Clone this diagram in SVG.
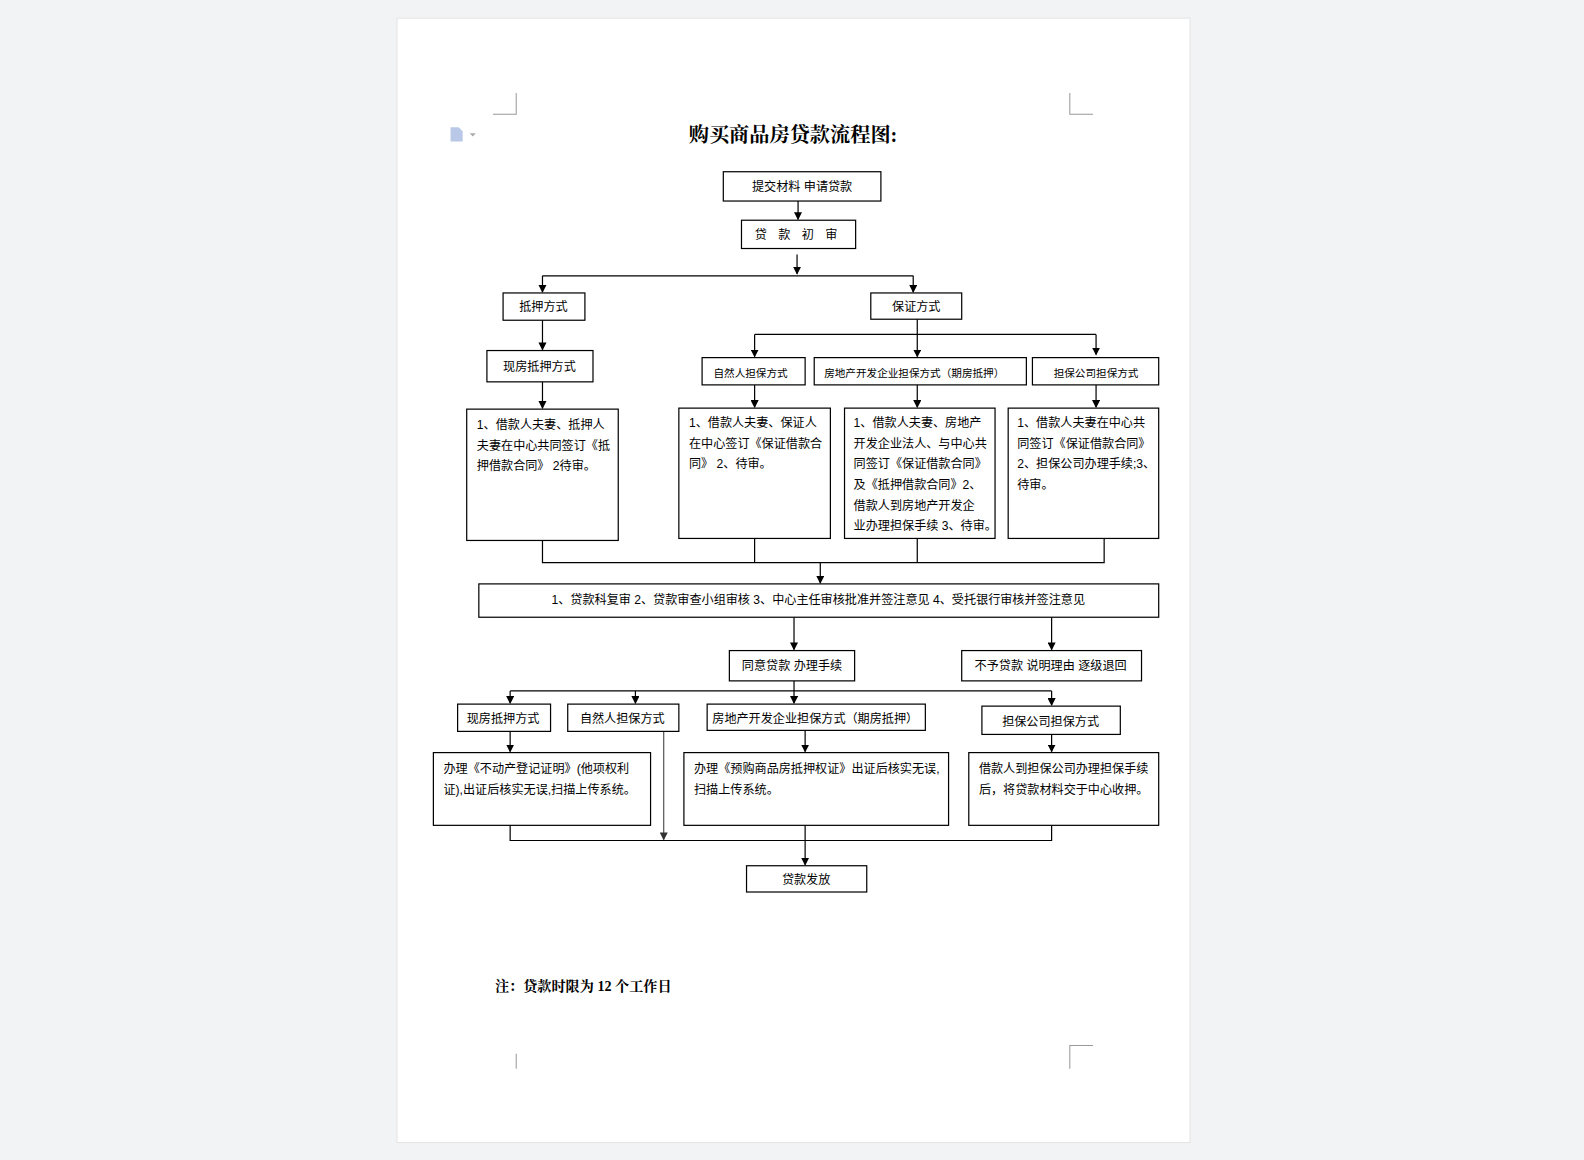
<svg xmlns="http://www.w3.org/2000/svg" width="1584" height="1160" viewBox="0 0 1584 1160">
<defs>
<marker id="ar" markerWidth="8" markerHeight="8" refX="7" refY="4" orient="auto" markerUnits="userSpaceOnUse"><path d="M0,0 L8,4 L0,8 z" fill="#000"/></marker>
<marker id="arg" markerWidth="8" markerHeight="8" refX="7" refY="4" orient="auto" markerUnits="userSpaceOnUse"><path d="M0,0 L8,4 L0,8 z" fill="#333"/></marker>
<style>
.b{fill:#fff;stroke:#000;stroke-width:1.2}
.t{font-family:"Liberation Sans","Noto Sans CJK SC",sans-serif;font-size:12px;fill:#000}
.s{font-size:10.5px}
.c{stroke:#000;stroke-width:1.2;fill:none}
.g{stroke:#555;stroke-width:1.2;fill:none}
.m{stroke:#999;stroke-width:1;fill:none}
</style>
</defs>
<rect width="1584" height="1160" fill="#f2f3f5"/>
<g transform="scale(1.0102)">
<rect x="393" y="18" width="785" height="1113" fill="#fff" stroke="#e4e4e4"/>
<g id="marks">
<path class="m" d="M488,113 H511 V92 M1082,113 H1059 V92 M511,1043 V1058 M1082,1035 H1059 V1058"/>
<path d="M446,126 h8 l4,4 v10 h-12 z" fill="#b8c8e6"/><path d="M465,132 l3,3 l3,-3z" fill="#aaa"/>
</g>
<text x="785" y="141" text-anchor="middle" style="font-family:'Liberation Serif','Noto Serif CJK SC','Noto Sans CJK SC',serif;font-size:20px;font-weight:bold">购买商品房贷款流程图:</text>
<g id="connectors">
<path class="c" marker-end="url(#ar)" d="M790,199 V217"/>
<path class="c" marker-end="url(#ar)" d="M789,252 V271"/>
<path class="c" d="M537,273 H904"/>
<path class="c" marker-end="url(#ar)" d="M537,273 V289"/>
<path class="c" marker-end="url(#ar)" d="M904,273 V289"/>
<path class="c" marker-end="url(#ar)" d="M537,317 V346"/>
<path class="c" marker-end="url(#ar)" d="M908,316 V353"/>
<path class="c" d="M747,331 H1085"/>
<path class="c" marker-end="url(#ar)" d="M747,331 V353"/>
<path class="c" marker-end="url(#ar)" d="M1085,331 V351"/>
<path class="c" marker-end="url(#ar)" d="M537,378 V404"/>
<path class="c" marker-end="url(#ar)" d="M747,381 V403"/>
<path class="c" marker-end="url(#ar)" d="M908,381 V403"/>
<path class="c" marker-end="url(#ar)" d="M1085,381 V403"/>
<path class="c" d="M537,535 V557 H1093 V533 M747,533 V557 M908,533 V557"/>
<path class="c" marker-end="url(#ar)" d="M812,557 V577"/>
<path class="c" marker-end="url(#ar)" d="M786,611 V643"/>
<path class="c" marker-end="url(#ar)" d="M1041,611 V643"/>
<path class="c" marker-end="url(#ar)" d="M786,674 V696"/>
<path class="c" d="M505,684 H1041"/>
<path class="c" marker-end="url(#ar)" d="M505,684 V696"/>
<path class="c" marker-end="url(#ar)" d="M629,684 V696"/>
<path class="c" marker-end="url(#ar)" d="M1041,684 V698"/>
<path class="c" marker-end="url(#ar)" d="M505,724 V744"/>
<path class="c" marker-end="url(#ar)" d="M797,723 V744"/>
<path class="c" marker-end="url(#ar)" d="M1041,727 V744"/>
<path class="g" marker-end="url(#arg)" d="M657,724 V831"/>
<path class="c" d="M505,817 V832 H1041 V817"/>
<path class="c" marker-end="url(#ar)" d="M797,817 V856"/>
</g>
<g id="n1"><rect class="b" x="716" y="170" width="156" height="29"/><text class="t" x="794" y="189" text-anchor="middle">提交材料  申请贷款</text></g>
<g id="n2"><rect class="b" x="734" y="218" width="113" height="28"/><text class="t" x="790" y="237" text-anchor="middle" letter-spacing="4">贷 款 初 审</text></g>
<g id="n3"><rect class="b" x="498" y="290" width="81" height="27"/><text class="t" x="538" y="308" text-anchor="middle">抵押方式</text></g>
<g id="n4"><rect class="b" x="862" y="290" width="90" height="26"/><text class="t" x="907" y="308" text-anchor="middle">保证方式</text></g>
<g id="n5"><rect class="b" x="482" y="347" width="105" height="31"/><text class="t" x="534" y="367" text-anchor="middle">现房抵押方式</text></g>
<g id="n6"><rect class="b" x="695" y="354" width="102" height="27"/><text class="t s" x="743" y="373" text-anchor="middle">自然人担保方式</text></g>
<g id="n7"><rect class="b" x="806" y="354" width="210" height="27"/><text class="t s" x="905" y="373" text-anchor="middle">房地产开发企业担保方式（期房抵押）</text></g>
<g id="n8"><rect class="b" x="1022" y="354" width="125" height="27"/><text class="t s" x="1085" y="373" text-anchor="middle">担保公司担保方式</text></g>
<g id="n9"><rect class="b" x="462" y="405" width="150" height="130"/><text class="t" x="472" y="425">1、借款人夫妻、抵押人</text><text class="t" x="472" y="445">夫妻在中心共同签订《抵</text><text class="t" x="472" y="465">押借款合同》 2待审。</text></g>
<g id="n10"><rect class="b" x="672" y="404" width="150" height="129"/><text class="t" x="682" y="423">1、借款人夫妻、保证人</text><text class="t" x="682" y="443">在中心签订《保证借款合</text><text class="t" x="682" y="463">同》 2、待审。</text></g>
<g id="n11"><rect class="b" x="836" y="404" width="149" height="129"/><text class="t" x="845" y="423">1、借款人夫妻、房地产</text><text class="t" x="845" y="443">开发企业法人、与中心共</text><text class="t" x="845" y="463">同签订《保证借款合同》</text><text class="t" x="845" y="484">及《抵押借款合同》2、</text><text class="t" x="845" y="505">借款人到房地产开发企</text><text class="t" x="845" y="525">业办理担保手续 3、待审。</text></g>
<g id="n12"><rect class="b" x="998" y="404" width="149" height="129"/><text class="t" x="1007" y="423">1、借款人夫妻在中心共</text><text class="t" x="1007" y="443">同签订《保证借款合同》</text><text class="t" x="1007" y="463">2、担保公司办理手续;3、</text><text class="t" x="1007" y="484">待审。</text></g>
<g id="n13"><rect class="b" x="474" y="578" width="673" height="33"/><text class="t" x="810" y="598" text-anchor="middle">1、贷款科复审 2、贷款审查小组审核 3、中心主任审核批准并签注意见 4、受托银行审核并签注意见</text></g>
<g id="n14"><rect class="b" x="722" y="644" width="124" height="30"/><text class="t" x="784" y="663" text-anchor="middle">同意贷款  办理手续</text></g>
<g id="n15"><rect class="b" x="952" y="644" width="178" height="30"/><text class="t" x="1040" y="663" text-anchor="middle">不予贷款  说明理由  逐级退回</text></g>
<g id="n16"><rect class="b" x="453" y="697" width="92" height="27"/><text class="t" x="498" y="716" text-anchor="middle">现房抵押方式</text></g>
<g id="n17"><rect class="b" x="562" y="697" width="110" height="27"/><text class="t" x="616" y="716" text-anchor="middle">自然人担保方式</text></g>
<g id="n18"><rect class="b" x="700" y="697" width="216" height="26"/><text class="t" x="807" y="716" text-anchor="middle">房地产开发企业担保方式（期房抵押）</text></g>
<g id="n19"><rect class="b" x="972" y="699" width="137" height="28"/><text class="t" x="1040" y="719" text-anchor="middle">担保公司担保方式</text></g>
<g id="n20"><rect class="b" x="429" y="745" width="215" height="72"/><text class="t" x="439" y="765">办理《不动产登记证明》(他项权利</text><text class="t" x="439" y="786">证),出证后核实无误,扫描上传系统。</text></g>
<g id="n21"><rect class="b" x="677" y="745" width="262" height="72"/><text class="t" x="687" y="765">办理《预购商品房抵押权证》出证后核实无误,</text><text class="t" x="687" y="786">扫描上传系统。</text></g>
<g id="n22"><rect class="b" x="959" y="745" width="188" height="72"/><text class="t" x="969" y="765">借款人到担保公司办理担保手续</text><text class="t" x="969" y="786">后，将贷款材料交于中心收押。</text></g>
<g id="n23"><rect class="b" x="739" y="857" width="119" height="26"/><text class="t" x="798" y="875" text-anchor="middle">贷款发放</text></g>
<text x="490" y="981" style="font-family:'Liberation Serif','Noto Serif CJK SC','Noto Sans CJK SC',serif;font-size:14px;font-weight:bold">注：贷款时限为 12 个工作日</text>
</g>
</svg>
